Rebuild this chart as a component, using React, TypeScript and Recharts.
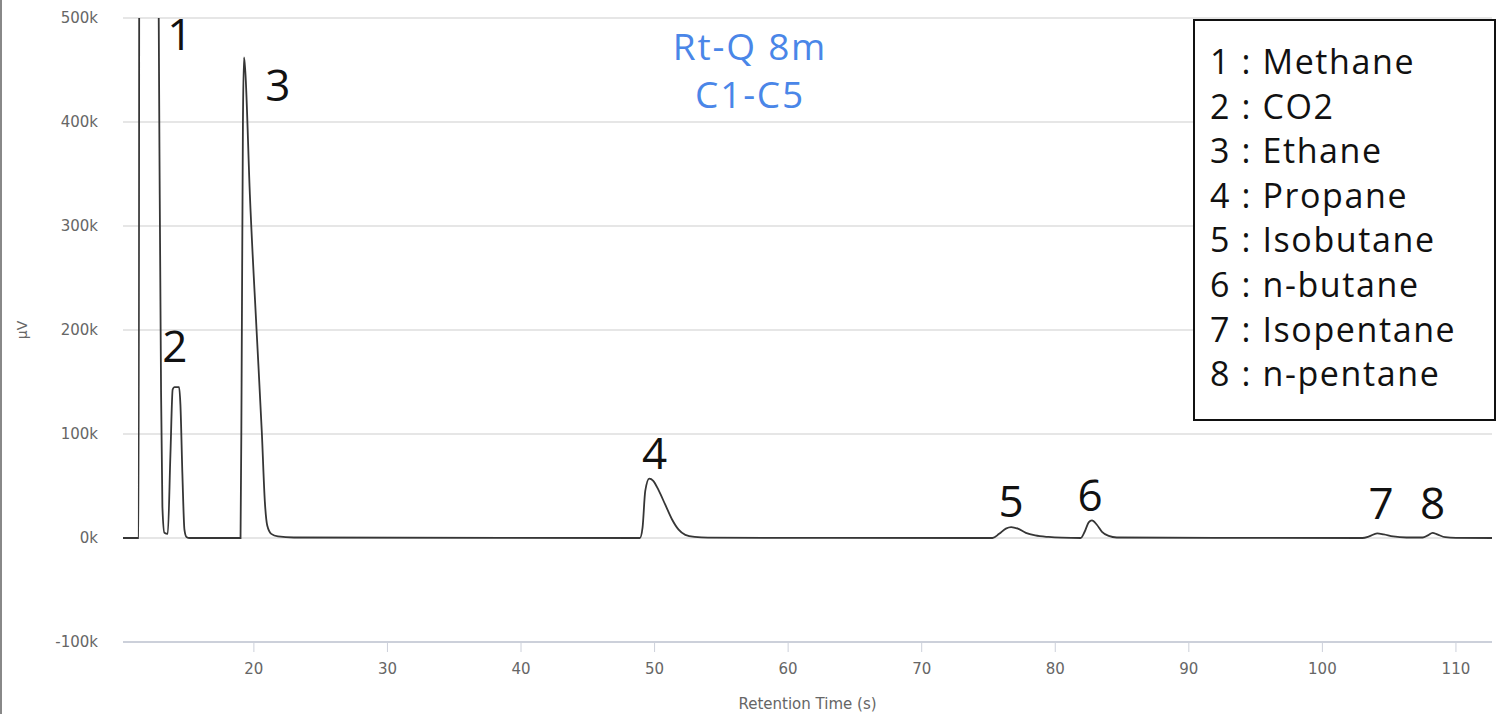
import { LineChart, Line, XAxis, YAxis, CartesianGrid, ReferenceDot } from 'recharts'

// retention time (s) and detector signal (µV)
const time = [
  10.2, 11.3, 11.38, 11.45, 12.7, 12.85, 12.95, 13.05, 13.15, 13.3,
  13.55, 13.75, 13.92, 14.05, 14.4, 14.5, 14.65, 14.8, 14.95, 15.2,
  19.0, 19.08, 19.18, 19.26, 19.36, 19.7, 20.2, 20.6, 20.82, 21.0,
  21.3, 21.8, 23.0, 48.9, 49.1, 49.3, 49.6, 49.9, 50.3, 50.8,
  51.3, 51.8, 52.3, 53.0, 54.0, 75.3, 75.8, 76.3, 76.7, 77.2,
  77.8, 78.5, 79.5, 80.5, 81.9, 82.2, 82.5, 82.75, 83.1, 83.5,
  84.0, 84.6, 103.0, 103.5, 104.1, 104.6, 105.3, 106.3, 107.5, 107.9,
  108.25, 108.6, 109.2, 110.0, 112.7,
]
const signal = [
  0, 0, 0, 1200000, 1200000, 560000, 330000, 140000, 30000, 5000,
  4000, 80000, 143000, 145000, 145000, 128000, 60000, 8000, 1000, 0,
  0, 150000, 400000, 462000, 448000, 330000, 200000, 100000, 35000, 12000,
  4000, 1500, 500, 0, 10000, 45000, 57000, 55000, 46000, 32000,
  18000, 8000, 3000, 1000, 300, 0, 4000, 9000, 10500, 9000,
  5000, 2500, 1000, 300, 0, 6000, 15000, 17000, 13000, 6000,
  2000, 500, 0, 1500, 4500, 3500, 1500, 500, 500, 2500,
  5000, 3500, 800, 200, 0,
]

// peak numbers and where they sit (time, µV)
const peakIds = ['1', '2', '3', '4', '5', '6', '7', '8']
const peakLabelTime = [14.46, 14.09, 21.8, 50.0, 76.7, 82.6, 104.4, 108.25]
const peakLabelValue = [486000, 186000, 437000, 83000, 36500, 42000, 35000, 35000]

const compounds = ['Methane', 'CO2', 'Ethane', 'Propane', 'Isobutane', 'n-butane', 'Isopentane', 'n-pentane']

const xTicks = [20, 30, 40, 50, 60, 70, 80, 90, 100, 110]
const yTicks = [-100000, 0, 100000, 200000, 300000, 400000, 500000]

const data = time.map((t, i) => ({ t, v: signal[i] }))

const tickStyle = { fontSize: 15, fill: '#666', fontFamily: 'DejaVu Sans' }

const YLabel = (props: any) => {
  const vb = props.viewBox || { y: 18, height: 624 }
  const cy = vb.y + vb.height / 2
  return (
    <text x={22} y={cy} transform={`rotate(-90 22 ${cy})`} textAnchor="middle" dominantBaseline="central"
      fontSize={14} fill="#666" fontFamily="DejaVu Sans">µV</text>
  )
}

const PeakLabel = (id: string) => (props: any) => (
  <text x={props.cx} y={props.cy} textAnchor="middle" dominantBaseline="central"
    fontSize={44} fill="#111" fontFamily="Open Sans">{id}</text>
)

export default function App() {
  return (
    <div style={{ position: 'absolute', left: 0, top: 0, width: 1500, height: 714, background: '#fff', overflow: 'hidden' }}>
      <div style={{ position: 'absolute', left: 0, top: 0, width: 2, height: 714, background: '#888' }} />

      <LineChart width={1500} height={714} data={data} margin={{ top: 18, right: 8, bottom: 0, left: 0 }}>
        <CartesianGrid vertical={false} stroke="#dedede" strokeWidth={1.5} />
        <XAxis
          dataKey="t"
          type="number"
          domain={[10.2, 112.7]}
          allowDataOverflow
          ticks={xTicks}
          height={72}
          axisLine={{ stroke: '#ccd0da', strokeWidth: 2 }}
          tickLine={{ stroke: '#ccd0da' }}
          tickSize={10}
          tickMargin={11}
          tick={tickStyle}
          label={{ value: 'Retention Time (s)', position: 'insideBottom', offset: 5, fontSize: 15, fill: '#666', fontFamily: 'DejaVu Sans' }}
        />
        <YAxis
          type="number"
          domain={[-100000, 500000]}
          allowDataOverflow
          ticks={yTicks}
          width={123}
          axisLine={false}
          tickLine={false}
          tickSize={0}
          tickMargin={25}
          tick={tickStyle}
          tickFormatter={(v: number) => `${v / 1000}k`}
          label={<YLabel />}
        />
        <Line
          type="monotone"
          dataKey="v"
          stroke="#363636"
          strokeWidth={1.8}
          dot={false}
          isAnimationActive={false}
        />
        {peakIds.map((id, i) => (
          <ReferenceDot key={id} x={peakLabelTime[i]} y={peakLabelValue[i]} r={0} shape={PeakLabel(id)} />
        ))}
      </LineChart>

      <div style={{ position: 'absolute', left: 600, top: 22, width: 300, textAlign: 'center', color: '#4a86e8',
        fontFamily: 'Open Sans', fontSize: 37, lineHeight: '48px', letterSpacing: 1.8 }}>
        <div>Rt-Q 8m</div>
        <div>C1-C5</div>
      </div>

      <div style={{ position: 'absolute', left: 1193, top: 19, width: 299, height: 398, border: '2px solid #111',
        background: '#fff', boxSizing: 'content-box' }}>
        <div style={{ paddingTop: 18, paddingLeft: 15, fontFamily: 'Open Sans', fontSize: 34, lineHeight: '44.6px',
          color: '#111', letterSpacing: 1.6, whiteSpace: 'nowrap' }}>
          {compounds.map((c, i) => (
            <div key={c}>{i + 1} : {c}</div>
          ))}
        </div>
      </div>
    </div>
  )
}
